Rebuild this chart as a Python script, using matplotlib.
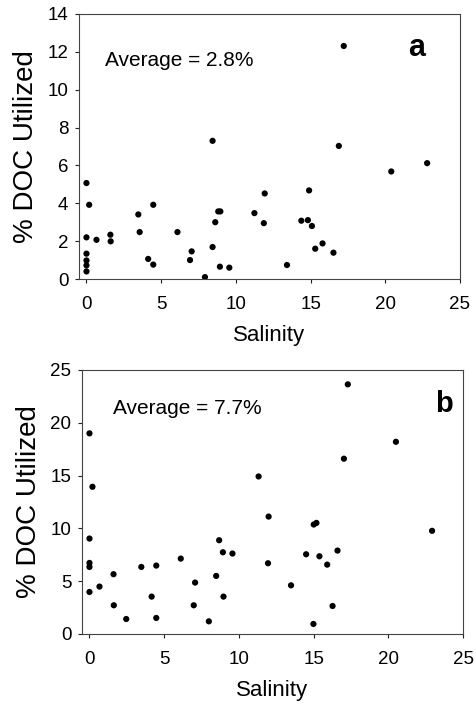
import matplotlib
matplotlib.use("Agg")
import matplotlib.pyplot as plt

plt.rcParams['font.family'] = ['Liberation Sans', 'DejaVu Sans']

# Panel a data
sal_a = [0, 0.18, 0, 0.67, 0, 0, 0, 0, 1.6, 1.62, 3.47, 3.56, 4.47, 4.13, 4.47,
         6.09, 6.93, 7.04, 7.93, 8.44, 8.44, 8.62, 8.82, 8.96, 8.93, 9.56,
         11.24, 11.93, 11.87, 17.22, 16.89, 20.4, 22.8, 14.9, 14.38, 14.82,
         15.09, 15.8, 15.31, 16.53, 13.42]
doc_a = [5.07, 3.92, 2.2, 2.07, 1.34, 0.98, 0.72, 0.40, 2.34, 1.99, 3.41, 2.48, 3.92, 1.06, 0.76,
         2.48, 1.0, 1.46, 0.1, 7.3, 1.69, 3.0, 3.57, 3.57, 0.65, 0.6,
         3.48, 4.52, 2.95, 12.31, 7.03, 5.68, 6.12, 4.68, 3.08, 3.11,
         2.8, 1.88, 1.6, 1.39, 0.74]

# Panel b data
sal_b = [0, 0.2, 0, 0, 0, 0, 0.67, 1.61, 1.63, 2.46, 3.47, 4.16, 4.47, 4.47,
         6.11, 7.07, 6.98, 7.99, 8.48, 8.68, 8.93, 8.97, 9.57, 11.32, 11.99, 11.95,
         17.29, 20.51, 17.03, 22.93, 15.01, 15.19, 14.5, 15.39, 16.6, 15.91,
         13.49, 16.27, 14.99]
doc_b = [19.0, 13.94, 9.04, 6.73, 6.35, 3.98, 4.49, 5.66, 2.72, 1.42, 6.35, 3.54, 6.48, 1.52,
         7.14, 4.87, 2.72, 1.2, 5.5, 8.88, 7.74, 3.54, 7.62, 14.92, 11.12, 6.7,
         23.64, 18.2, 16.6, 9.77, 10.37, 10.52, 7.55, 7.36, 7.9, 6.57,
         4.61, 2.65, 0.95]

xticks = [0, 5, 10, 15, 20, 25]
yticks_a = [0, 2, 4, 6, 8, 10, 12, 14]
yticks_b = [0, 5, 10, 15, 20, 25]

fig = plt.figure(figsize=(4.76, 7.06), dpi=100)
ax1 = fig.add_axes([79/476, 1 - 279/706, 381/476, 265/706])
ax2 = fig.add_axes([82/476, 1 - 634/706, 381/476, 264/706])

panels = [
    (ax1, sal_a, doc_a, yticks_a, (0, 14), "Average = 2.8%", (0.068, 0.823),
     "a", (0.908, 0.873), 22),
    (ax2, sal_b, doc_b, yticks_b, (0, 25), "Average = 7.7%", (0.081, 0.856),
     "b", (0.974, 0.87), 21),
]
for ax, x, y, yt, ylim, avg, avgpos, lab, labpos, labsize in panels:
    ax.scatter(x, y, s=20, color='black', edgecolors='none', zorder=3)
    ax.set_xlim(-0.5, 25)
    ax.set_ylim(*ylim)
    ax.set_xticks(xticks)
    ax.set_yticks(yt)
    ax.tick_params(direction='out', length=2.6, width=0.8, labelsize=13.5,
                   colors='#222222', labelcolor='black')
    ax.tick_params(axis='x', pad=9.5)
    ax.tick_params(axis='y', pad=5)
    for s in ax.spines.values():
        s.set_linewidth(0.8)
        s.set_color('#444444')
    ax.set_xlabel('Salinity', fontsize=16, labelpad=9)
    ax.set_ylabel('% DOC Utilized', fontsize=20, labelpad=6)
    ax.text(avgpos[0], avgpos[1], avg, transform=ax.transAxes, fontsize=15,
            ha='left', va='center')
    ax.text(labpos[0], labpos[1], lab, transform=ax.transAxes, fontsize=labsize,
            fontweight='bold', ha='right', va='center')

fig.savefig('out.png', dpi=100)
